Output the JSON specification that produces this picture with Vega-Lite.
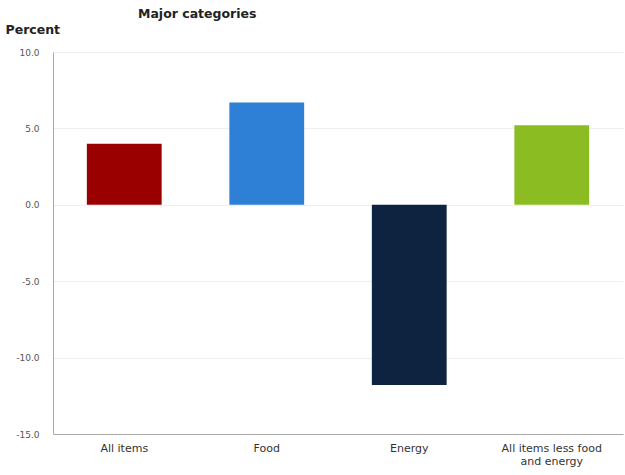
{
  "$schema": "https://vega.github.io/schema/vega-lite/v6.json",
  "autosize": "none",
  "width": 570,
  "height": 382,
  "padding": {"left": 53, "top": 52, "right": 2, "bottom": 41},
  "background": "white",
  "config": {"view": {"stroke": null}, "font": "DejaVu Sans"},
  "title": {
    "text": "Major categories",
    "anchor": "start",
    "dx": 133,
    "offset": 3,
    "fontSize": 12.5,
    "fontWeight": "bold",
    "font": "DejaVu Sans",
    "color": "#222222"
  },
  "data": {
    "values": [
      {"category": "All items", "value": 4.0},
      {"category": "Food", "value": 6.7},
      {"category": "Energy", "value": -11.8},
      {"category": "All items less food and energy", "value": 5.2}
    ]
  },
  "mark": {"type": "bar"},
  "encoding": {
    "x": {
      "field": "category",
      "type": "nominal",
      "sort": null,
      "scale": {"paddingInner": 0.475, "paddingOuter": 0.2375},
      "axis": {
        "title": null,
        "labelAngle": 0,
        "labelFontSize": 11,
        "labelColor": "#333333",
        "labelPadding": 8,
        "ticks": false,
        "domainColor": "#aaaaaa",
        "labelExpr": "datum.label == 'All items less food and energy' ? ['All items less food', 'and energy'] : datum.label"
      }
    },
    "y": {
      "field": "value",
      "type": "quantitative",
      "scale": {"domain": [-15, 10], "nice": false},
      "axis": {
        "values": [-15, -10, -5, 0, 5, 10],
        "format": ".1f",
        "labelExpr": "replace(datum.label, '\u2212', '-')",
        "title": "Percent",
        "titleAngle": 0,
        "titleAlign": "left",
        "titleBaseline": "middle",
        "titleX": -48,
        "titleY": -23,
        "titleFontSize": 12.5,
        "titleFontWeight": "bold",
        "titleColor": "#222222",
        "labelFontSize": 9,
        "labelColor": "#555555",
        "labelPadding": 14,
        "ticks": false,
        "domainColor": "#aaaaaa",
        "gridColor": "#eeeeee"
      }
    },
    "color": {
      "field": "category",
      "type": "nominal",
      "sort": null,
      "scale": {
        "domain": ["All items", "Food", "Energy", "All items less food and energy"],
        "range": ["#9b0000", "#2e7fd6", "#0e2340", "#8bbd22"]
      },
      "legend": null
    }
  }
}
